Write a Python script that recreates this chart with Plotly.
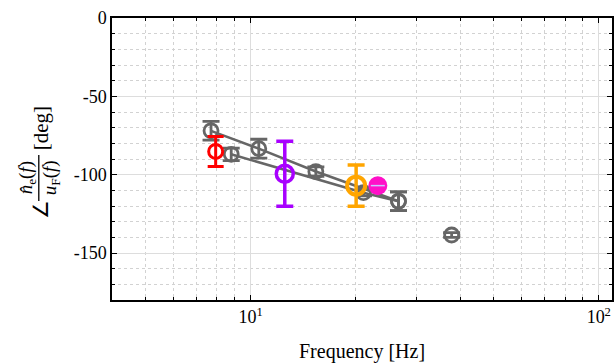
import plotly.graph_objects as go

# Phase of the flame response, two measurement runs (grey) plus single cases
run_a_freq = [7.7, 10.56, 15.4, 26.6]
run_a_phase = [-72, -83.4, -98, -117]
run_a_err = [6, 6, 3, 6]

run_b_freq = [8.8, 21.1, 26.6]
run_b_phase = [-87, -111.5, -117]
run_b_err = [4, 2, 6]

lone_freq = [37.8]
lone_phase = [-138.5]
lone_err = [1.5]

case_freq = [7.94, 12.54, 20.1, 23.2]
case_phase = [-85.2, -99.4, -107, -107]
case_err = [9.6, 20.7, 13.2, 0.6]
case_colors = ["#ff0000", "#a800ff", "#ffa500", "#ff10c8"]

y_ticks = [0, -50, -100, -150]
y_tick_text = ["0", "-50", "-100", "-150"]
x_ticks = [10, 100]
x_tick_text = ["10<sup>1</sup>", "10<sup>2</sup>"]
x_minor = [5, 6, 7, 8, 9, 20, 30, 40, 50, 60, 70, 80, 90]

GREY = "#666666"
FONT = "Liberation Serif"

fig = go.Figure()

for fx, fy, fe, mode in [
    (run_a_freq, run_a_phase, run_a_err, "lines+markers"),
    (run_b_freq, run_b_phase, run_b_err, "lines+markers"),
    (lone_freq, lone_phase, lone_err, "markers"),
]:
    fig.add_trace(go.Scatter(
        x=fx, y=fy, mode=mode,
        line=dict(color=GREY, width=2.5),
        marker=dict(symbol="circle-open", size=14, color=GREY,
                    line=dict(width=2.8, color=GREY)),
        error_y=dict(type="data", array=fe, color=GREY, thickness=2.8, width=8.5),
        showlegend=False,
    ))

# individual cases
case_style = [
    dict(size=14, lw=3, th=3, cap=8, open=True),
    dict(size=17, lw=3.5, th=3.5, cap=8.5, open=True),
    dict(size=18, lw=4, th=3.5, cap=8.5, open=True),
    dict(size=19, lw=0, th=1.5, cap=5, open=False),
]
for f, p, e, c, s in zip(case_freq, case_phase, case_err, case_colors, case_style):
    fig.add_trace(go.Scatter(
        x=[f], y=[p], mode="markers",
        marker=dict(symbol="circle-open" if s["open"] else "circle",
                    size=s["size"], color=c,
                    line=dict(width=s["lw"], color=c)),
        error_y=dict(type="data", array=[e],
                     color=c if s["open"] else "#c8c8ff",
                     thickness=s["th"], width=s["cap"]),
        showlegend=False,
    ))

# the filled case hides its tiny error bar; draw its cap on top of the dot
fig.add_trace(go.Scatter(
    x=[case_freq[3]], y=[case_phase[3]], mode="markers",
    marker=dict(symbol="line-ew", size=10, color="#c8c8ff",
                line=dict(width=1.5, color="#c8c8ff")),
    showlegend=False, hoverinfo="skip",
))

L, R, T, B = 112, 1, 18, 64
W, H = 615, 364
pw, ph = W - L - R, H - T - B

fig.update_layout(
    width=W, height=H,
    margin=dict(l=L, r=R, t=T, b=B),
    plot_bgcolor="white", paper_bgcolor="white",
    font=dict(family=FONT, size=18, color="black"),
)

fig.update_xaxes(
    type="log", range=[0.6021, 2.038],
    tickvals=x_ticks, ticktext=x_tick_text,
    tickfont=dict(size=18),
    ticks="inside", ticklen=5, tickwidth=1.2, tickcolor="black",
    showline=True, linecolor="black", linewidth=1.5, mirror="ticks",
    showgrid=True, gridcolor="#dddddd", gridwidth=1,
    zeroline=False,
    minor=dict(tickvals=x_minor, ticks="inside", ticklen=3, tickcolor="black",
               showgrid=True, gridcolor="#d2d2d2", griddash="dot", gridwidth=1),
)
fig.update_yaxes(
    range=[-180, 0],
    tickvals=y_ticks, ticktext=y_tick_text,
    tickfont=dict(size=18),
    ticks="inside", ticklen=5, tickwidth=1.2, tickcolor="black",
    showline=True, linecolor="black", linewidth=1.5, mirror="ticks",
    showgrid=True, gridcolor="#dddddd", gridwidth=1,
    zeroline=False,
    minor=dict(dtick=10, ticks="inside", ticklen=3, tickcolor="black",
               showgrid=True, gridcolor="#d2d2d2", griddash="dot", gridwidth=1),
)


def px(x):
    return (x - L) / pw


def py(y):
    return (H - B - y) / ph


# x-axis title
fig.add_annotation(text="Frequency [Hz]", x=0.5, y=py(351), xref="paper", yref="paper",
                   showarrow=False, xanchor="center", yanchor="middle",
                   font=dict(size=20, family=FONT))

# y-axis label: angle of the normalised response, drawn as a rotated fraction
rot = dict(xref="paper", yref="paper", showarrow=False, textangle=-90,
           xanchor="center", yanchor="middle")
fig.add_annotation(text="∠", x=px(41), y=py(210), font=dict(size=21, family=FONT), **rot)
fig.add_annotation(text="<i>n̂</i><sub>e</sub>(<i>f</i>)", x=px(27), y=py(178),
                   font=dict(size=19, family=FONT), **rot)
fig.add_annotation(text="<i>u</i><sub>F</sub>(<i>f</i>)", x=px(51), y=py(178),
                   font=dict(size=19, family=FONT), **rot)
fig.add_annotation(text="[deg]", x=px(41), y=py(128), font=dict(size=21, family=FONT), **rot)
fig.add_shape(type="line", xref="paper", yref="paper",
              x0=px(38.5), x1=px(38.5), y0=py(155), y1=py(201),
              line=dict(color="black", width=1.3))

fig.write_html("out.html")
